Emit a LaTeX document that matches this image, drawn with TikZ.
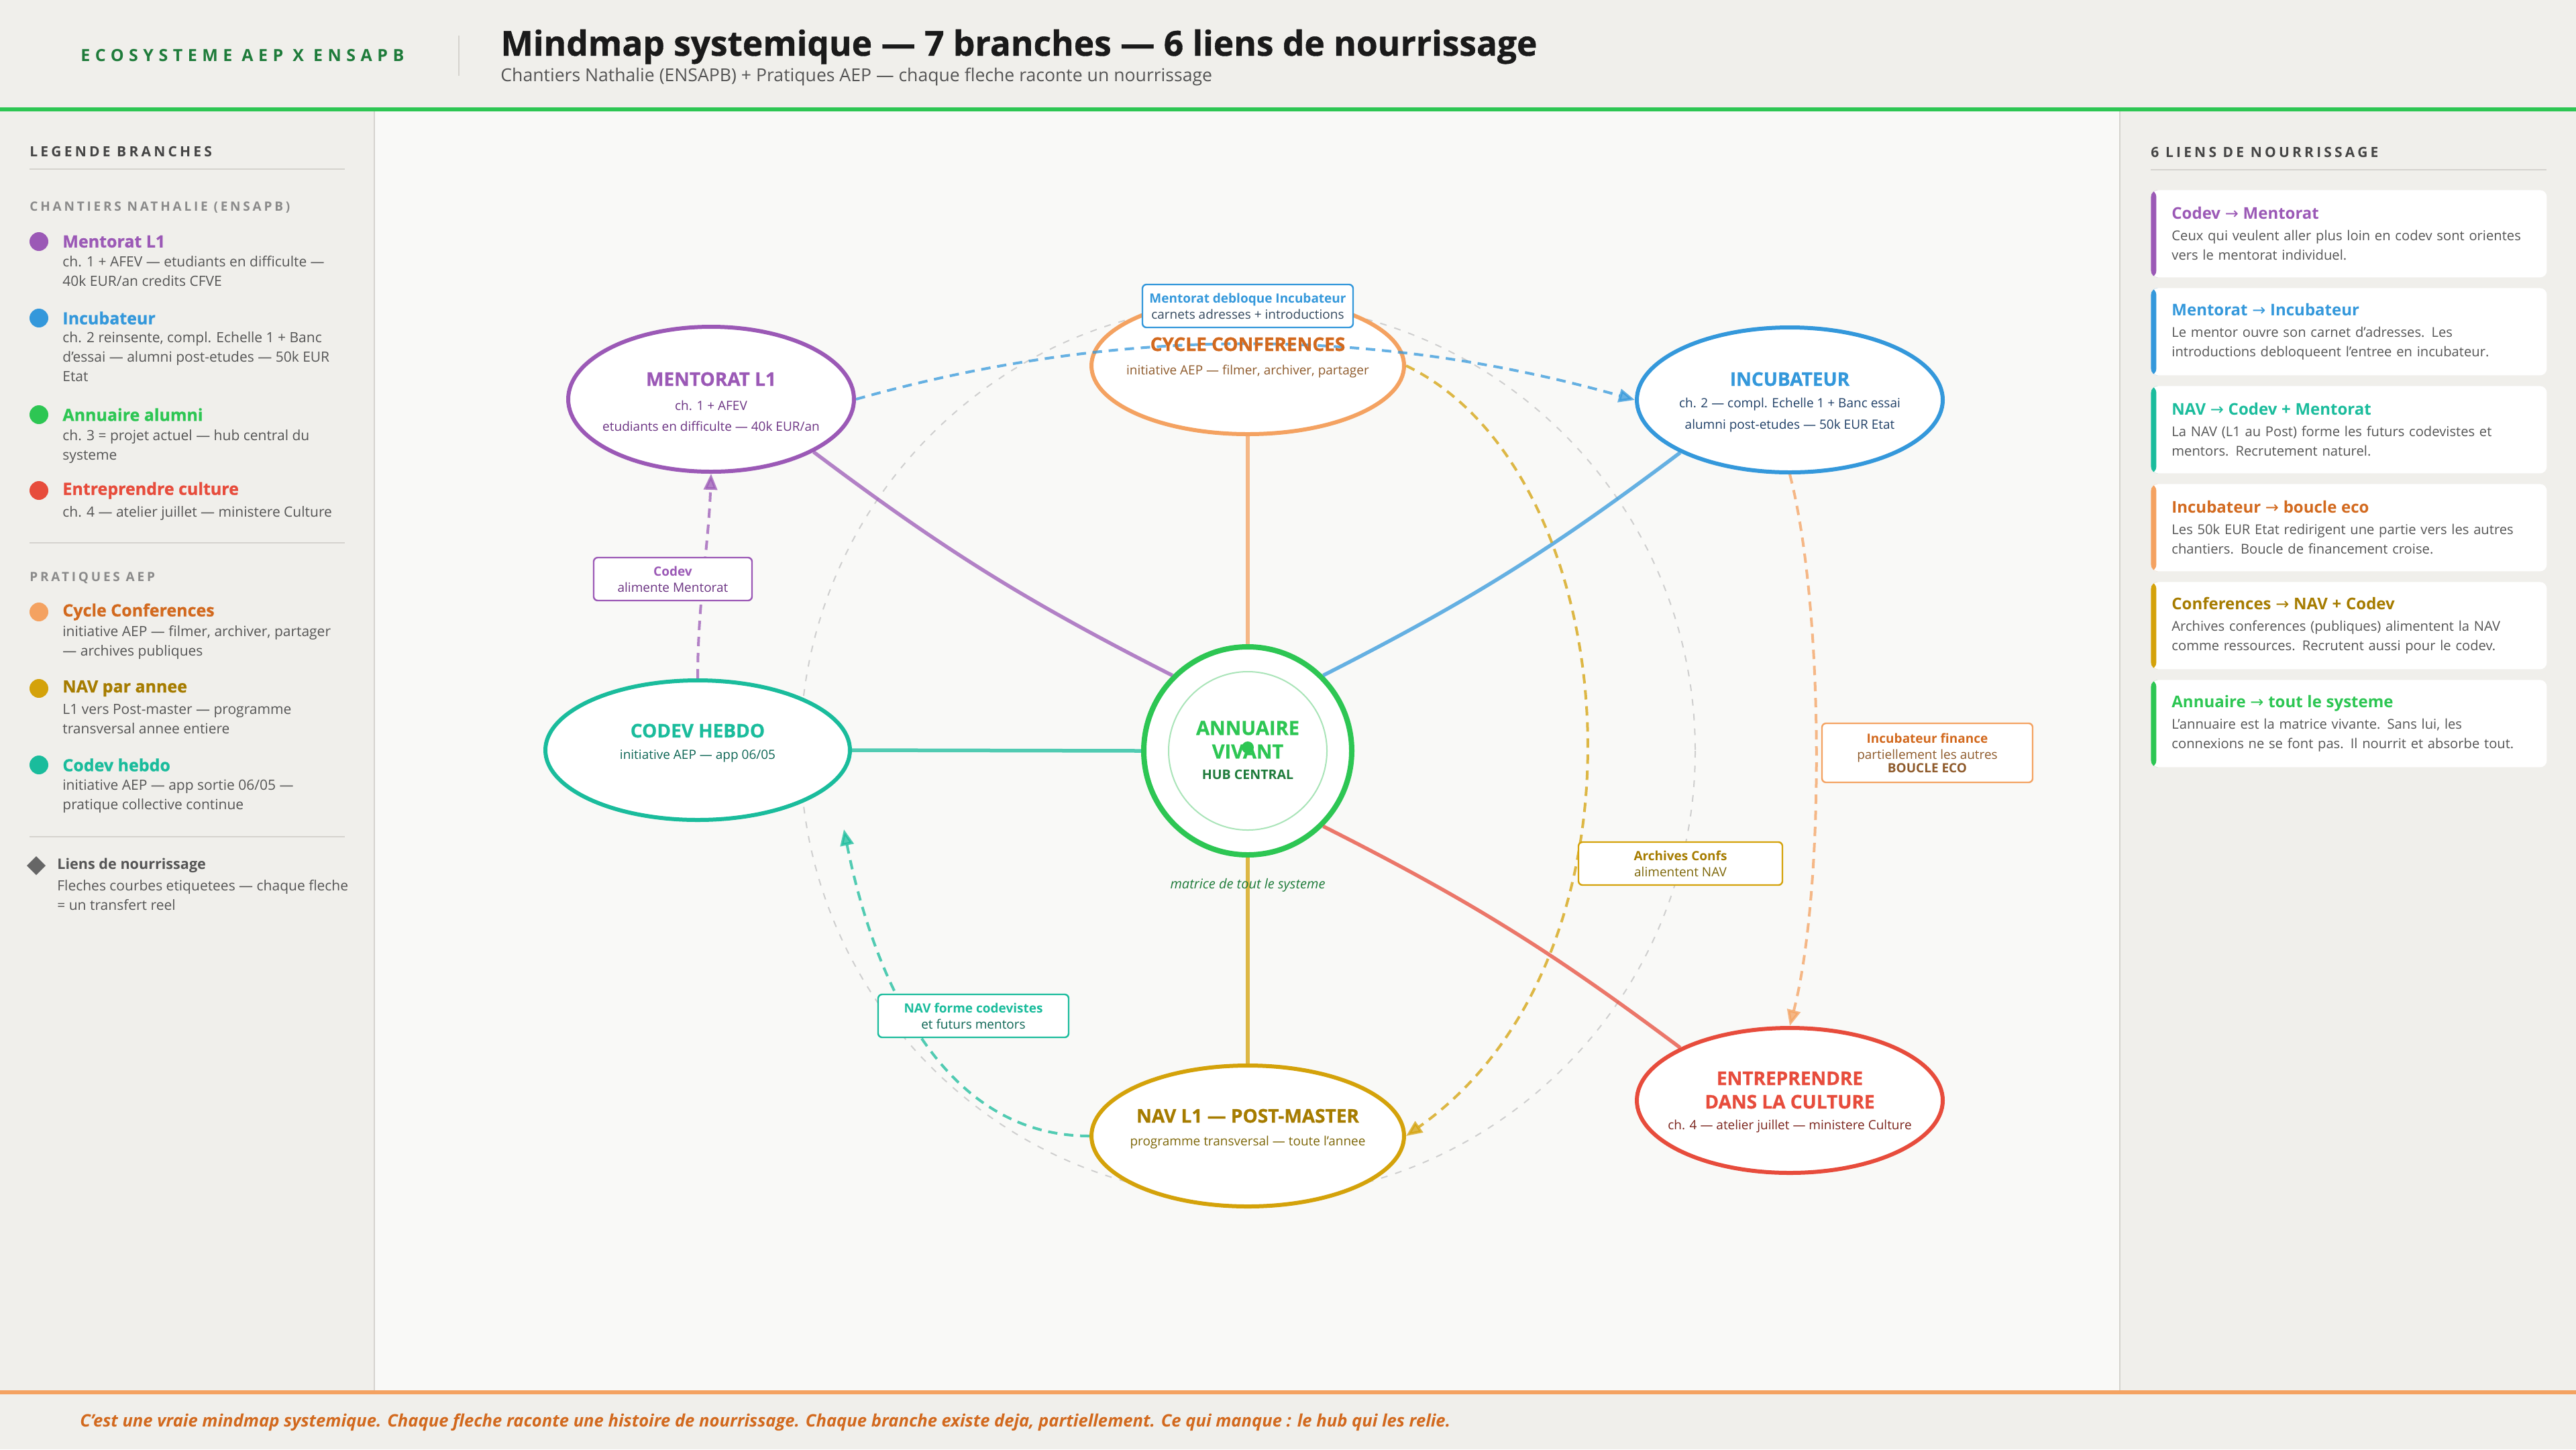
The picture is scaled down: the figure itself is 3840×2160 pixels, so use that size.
\documentclass[tikz,border=0pt]{standalone}
\usepackage{fontspec}
\setmainfont{Open Sans}
\newfontfamily\spacedfont[LetterSpace=20]{Open Sans}
\newfontfamily\tagfont[LetterSpace=30]{Open Sans}
\newfontfamily\heavyfont[BoldFeatures={FakeBold=0.8}]{Open Sans}
\newfontfamily\arrowfont{DejaVu Sans}
\usetikzlibrary{shapes.geometric,arrows.meta,positioning}

\definecolor{paper}{HTML}{F0EFEB}
\definecolor{canvas}{HTML}{F9F9F7}
\definecolor{rulec}{HTML}{D5D3CE}
\definecolor{ink}{HTML}{1A1A1A}
\definecolor{muted}{HTML}{555555}
\definecolor{soft}{HTML}{8A8A8A}
\definecolor{headc}{HTML}{444444}
\definecolor{mentor}{HTML}{9B59B6}
\definecolor{mentordk}{HTML}{6C3483}
\definecolor{incub}{HTML}{3498DB}
\definecolor{incubdk}{HTML}{1F3F66}
\definecolor{annu}{HTML}{2DC653}
\definecolor{annudk}{HTML}{1E7B3A}
\definecolor{entre}{HTML}{E74C3C}
\definecolor{entredk}{HTML}{7B241C}
\definecolor{conf}{HTML}{F4A261}
\definecolor{confdk}{HTML}{D2691E}
\definecolor{confsub}{HTML}{8E5A2B}
\definecolor{nav}{HTML}{D4A20A}
\definecolor{navdk}{HTML}{A67C00}
\definecolor{navsub}{HTML}{7D6608}
\definecolor{codev}{HTML}{1ABC9C}
\definecolor{codevdk}{HTML}{0E6655}
\definecolor{slate}{HTML}{34495E}
\definecolor{ringc}{HTML}{CFCFCF}
\definecolor{hubring}{HTML}{A9E4B8}

\tikzset{
  branch/.style={ellipse, draw=#1, line width=3pt, fill=white},
  btitle/.style={font=\heavyfont\bfseries\fontsize{14}{16}\selectfont, text=#1},
  bsub/.style={font=\fontsize{9.5}{11}\selectfont, text=#1},
  spoke/.style={draw=#1, draw opacity=0.75, line width=2.75pt},
  feed/.style={draw=#1, opacity=0.75, line width=2pt, dash pattern=on 7pt off 5pt,
    -{Triangle[length=12pt,width=10pt]}},
  linkbox/.style={draw=#1, line width=1.2pt, fill=white, rounded corners=3pt,
    minimum height=32pt, align=center, font=\fontsize{9.5}{12}\selectfont},
  heading/.style={font=\spacedfont\bfseries\fontsize{10.5}{12}\selectfont, text=headc, anchor=west},
  subhead/.style={font=\spacedfont\bfseries\fontsize{9.5}{11}\selectfont, text=soft, anchor=west},
  legname/.style={font=\heavyfont\bfseries\fontsize{12.5}{14}\selectfont, text=#1, anchor=west},
  legdesc/.style={font=\fontsize{10.5}{14.5}\selectfont, text=muted, align=left, anchor=north west},
  card/.style={rounded corners=5pt, fill=white, anchor=north west, text width=264pt,
    minimum height=65pt, inner xsep=15.5pt, align=left, text=muted,
    font=\fontsize{10.1}{14.5}\selectfont,
    path picture={\fill[#1] (path picture bounding box.north west) rectangle
      ([xshift=4pt]path picture bounding box.south west);}},
  rule/.style={draw=rulec, line width=1pt}
}

\begin{document}
\begin{tikzpicture}[x=0.5pt, y=-0.5pt, every node/.style={inner sep=0pt}]
\useasboundingbox (0,0) rectangle (3840,2160);

% fonds
\fill[paper] (0,0) rectangle (3840,160);
\fill[annu] (0,160) rectangle (3840,166);
\fill[paper] (0,166) rectangle (558,2072);
\fill[canvas] (558,166) rectangle (3160,2072);
\fill[paper] (3160,166) rectangle (3840,2072);
\draw[rule] (558,166) -- (558,2072);
\draw[rule] (3160,166) -- (3160,2072);
\fill[conf] (0,2072) rectangle (3840,2078);
\fill[paper] (0,2078) rectangle (3840,2160);

% en-tete
\node[font=\tagfont\bfseries\fontsize{12.5}{14}\selectfont, text=annudk, anchor=west] (tag) at (120,83) {ECOSYSTEME AEP X ENSAPB};
\draw[rule] (684,53) -- (684,113);
\node[anchor=base west, font=\heavyfont\bfseries\fontsize{25.7}{30}\selectfont, text=ink] (title) at (746,83) {Mindmap systemique — 7 branches — 6 liens de nourrissage};
\node[anchor=base west, font=\fontsize{13.3}{15}\selectfont, text=muted] (subtitle) at (746,121) {Chantiers Nathalie (ENSAPB) + Pratiques AEP — chaque fleche raconte un nourrissage};

% anneau
\coordinate (c) at (1860,1119);
\draw[ringc, line width=1pt, dash pattern=on 5pt off 6pt] (c) circle[radius=667];

% branches
\node[branch=mentor, minimum width=213pt, minimum height=108pt] (ment) at (1060,595) {};
\node[branch=conf, minimum width=233pt, minimum height=102pt] (conf) at (1860,545) {};
\node[branch=incub, minimum width=228pt, minimum height=108pt] (incu) at (2668,596) {};
\node[branch=codev, minimum width=227pt, minimum height=104pt] (codev) at (1040,1118) {};
\node[branch=nav, minimum width=233pt, minimum height=105pt] (nav) at (1860,1693) {};
\node[branch=entre, minimum width=228pt, minimum height=108pt] (entre) at (2668,1640) {};
\node[circle, draw=annu, line width=4pt, fill=white, minimum size=155pt] (hub) at (c) {};
\draw[hubring, line width=1pt] (c) circle[radius=118];

\draw[spoke=mentor] (hub.north west) to[bend left=5] (ment.south east);
\draw[spoke=conf] (hub.north) -- (conf.south);
\draw[spoke=incub] (hub.north east) to[bend right=5] (incu.south west);
\draw[spoke=codev] (hub.west) -- (codev.east);
\draw[spoke=nav] (hub.south) -- (nav.north);
\draw[spoke=entre] (hub.south east) to[bend left=5] (entre.north west);

% liens de nourrissage
\coordinate (navtip) at (1258,1236);
\draw[feed=incub] (ment.east) .. controls +(390,-110) and +(-390,-110) .. (incu.west);
\draw[feed=mentor] (codev.north) .. controls +(0,-110) and +(-4,110) .. (ment.south);
\draw[feed=codev] (nav.west) .. controls +(-230,0) and +(40,200) .. (navtip);
\draw[feed=nav] (conf.east) .. controls +(327,157) and +(387,-273) .. (nav.east);
\draw[feed=conf] (incu.south) .. controls +(52,200) and +(52,-200) .. (entre.north);

% textes des branches
\node[btitle=mentor] (mentname) at (1060,565) {MENTORAT L1};
\node[bsub=mentordk] (mentinfo) at (1060,604) {ch. 1 + AFEV};
\node[bsub=mentordk] (mentnote) at (1060,635) {etudiants en difficulte — 40k EUR/an};
\node[btitle=confdk] (confname) at (1860,513) {CYCLE CONFERENCES};
\node[bsub=confsub] (confinfo) at (1860,553) {initiative AEP — filmer, archiver, partager};
\node[btitle=incub] (incuname) at (2668,565) {INCUBATEUR};
\node[bsub=incubdk] (incuinfo) at (2668,603) {ch. 2 — compl. Echelle 1 + Banc essai};
\node[bsub=incubdk] (incunote) at (2668,635) {alumni post-etudes — 50k EUR Etat};
\node[btitle=codev] (codevname) at (1040,1089) {CODEV HEBDO};
\node[bsub=codevdk] (codevinfo) at (1040,1127) {initiative AEP — app 06/05};
\node[btitle=navdk] (navname) at (1860,1663) {NAV L1 — POST-MASTER};
\node[bsub=navsub] (navinfo) at (1860,1703) {programme transversal — toute l'annee};
\node[btitle=entre] (entrename) at (2668,1607) {ENTREPRENDRE};
\node[btitle=entre] (entrename2) at (2668,1642) {DANS LA CULTURE};
\node[bsub=entredk] (entreinfo) at (2668,1679) {ch. 4 — atelier juillet — ministere Culture};
\node[font=\heavyfont\bfseries\fontsize{14.5}{16}\selectfont, text=annu] (hubname) at (1860,1085) {ANNUAIRE};
\node[font=\heavyfont\bfseries\fontsize{14.5}{16}\selectfont, text=annu] (hubname2) at (1860,1120) {VIVANT};
\fill[annu] (1860,1114) circle[radius=9];
\node[font=\fontsize{9.8}{11}\selectfont\bfseries, text=annudk] (hubtag) at (1860,1154) {HUB CENTRAL};
\node[font=\fontsize{10}{12}\selectfont\itshape, text=annudk] (hubnote) at (1860,1319) {matrice de tout le systeme};

% etiquettes des liens
\node[linkbox=incub, minimum width=157pt] (lkincu) at (1860,456) {{\bfseries\color{incub}Mentorat debloque Incubateur}\\{\color{slate}carnets adresses + introductions}};
\node[linkbox=mentor, minimum width=118pt] (lkment) at (1003,863) {{\bfseries\color{mentor}Codev}\\{\color{mentordk}alimente Mentorat}};
\node[linkbox=codev, minimum width=142pt] (lknav) at (1451,1514) {{\bfseries\color{codev}NAV forme codevistes}\\{\color{codevdk}et futurs mentors}};
\node[linkbox=nav, minimum width=152pt] (lkconf) at (2505,1287) {{\bfseries\color{navdk}Archives Confs}\\{\color{navsub}alimentent NAV}};
\node[linkbox=conf, minimum width=157pt, minimum height=44pt] (lkeco) at (2873,1122) {{\bfseries\color{confdk}Incubateur finance}\\{\color{confsub}partiellement les autres}\\[-2pt]{\bfseries\color{confsub}BOUCLE ECO}};

% legende gauche
\node[heading] (legtitle) at (44,226) {LEGENDE BRANCHES};
\draw[rule] (44,252) -- (514,252);
\node[subhead] (chantiers) at (44,309) {CHANTIERS NATHALIE (ENSAPB)};
\fill[mentor] (58,360) circle[radius=14];
\node[legname=mentor] (lgment) at (93,360) {Mentorat L1};
\node[legdesc] (lgmentd) at (93,381) {ch. 1 + AFEV — etudiants en difficulte —\\40k EUR/an credits CFVE};
\fill[incub] (58,474) circle[radius=14];
\node[legname=incub] (lgincu) at (93,474) {Incubateur};
\node[legdesc] (lgincud) at (93,494) {ch. 2 reinsente, compl. Echelle 1 + Banc\\d'essai — alumni post-etudes — 50k EUR\\Etat};
\fill[annu] (58,618) circle[radius=14];
\node[legname=annu] (lgannu) at (93,618) {Annuaire alumni};
\node[legdesc] (lgannud) at (93,640) {ch. 3 = projet actuel — hub central du\\systeme};
\fill[entre] (58,731) circle[radius=14];
\node[legname=entre] (lgentre) at (93,731) {Entreprendre culture};
\node[legdesc] (lgentred) at (93,754) {ch. 4 — atelier juillet — ministere Culture};
\draw[rule] (44,809) -- (514,809);
\node[subhead] (pratiques) at (44,861) {PRATIQUES AEP};
\fill[conf] (58,912) circle[radius=14];
\node[legname=confdk] (lgconf) at (93,912) {Cycle Conferences};
\node[legdesc] (lgconfd) at (93,932) {initiative AEP — filmer, archiver, partager\\— archives publiques};
\fill[nav] (58,1026) circle[radius=14];
\node[legname=navdk] (lgnav) at (93,1026) {NAV par annee};
\node[legdesc] (lgnavd) at (93,1049) {L1 vers Post-master — programme\\transversal annee entiere};
\fill[codev] (58,1140) circle[radius=14];
\node[legname=codev] (lgcodev) at (93,1140) {Codev hebdo};
\node[legdesc] (lgcodevd) at (93,1162) {initiative AEP — app sortie 06/05 —\\pratique collective continue};
\draw[rule] (44,1247) -- (514,1247);
\fill[muted!90] (54,1276) -- (68,1290) -- (54,1304) -- (40,1290) -- cycle;
\node[font=\fontsize{10.8}{12}\selectfont\bfseries, text=muted, anchor=west] (lgfeed) at (85,1290) {Liens de nourrissage};
\node[legdesc] (lgfeedd) at (85,1311) {Fleches courbes etiquetees — chaque fleche\\= un transfert reel};

% liens a droite
\node[heading] (feedtitle) at (3206,227) {6 LIENS DE NOURRISSAGE};
\draw[rule] (3206,253) -- (3796,253);
\node[card=mentor] (card1) at (3206,283) {{\fontsize{12}{14}\selectfont\bfseries\color{mentor}Codev {\arrowfont\mdseries →} Mentorat}\\[1.5pt]Ceux qui veulent aller plus loin en codev sont orientes\\vers le mentorat individuel.};
\node[card=incub] (card2) at (3206,429) {{\fontsize{12}{14}\selectfont\bfseries\color{incub}Mentorat {\arrowfont\mdseries →} Incubateur}\\[1.5pt]Le mentor ouvre son carnet d'adresses. Les\\introductions debloqueent l'entree en incubateur.};
\node[card=codev] (card3) at (3206,575) {{\fontsize{12}{14}\selectfont\bfseries\color{codev}NAV {\arrowfont\mdseries →} Codev + Mentorat}\\[1.5pt]La NAV (L1 au Post) forme les futurs codevistes et\\mentors. Recrutement naturel.};
\node[card=conf] (card4) at (3206,721) {{\fontsize{12}{14}\selectfont\bfseries\color{confdk}Incubateur {\arrowfont\mdseries →} boucle eco}\\[1.5pt]Les 50k EUR Etat redirigent une partie vers les autres\\chantiers. Boucle de financement croise.};
\node[card=nav] (card5) at (3206,867) {{\fontsize{12}{14}\selectfont\bfseries\color{navdk}Conferences {\arrowfont\mdseries →} NAV + Codev}\\[1.5pt]Archives conferences (publiques) alimentent la NAV\\comme ressources. Recrutent aussi pour le codev.};
\node[card=annu] (card6) at (3206,1013) {{\fontsize{12}{14}\selectfont\bfseries\color{annu}Annuaire {\arrowfont\mdseries →} tout le systeme}\\[1.5pt]L'annuaire est la matrice vivante. Sans lui, les\\connexions ne se font pas. Il nourrit et absorbe tout.};

% pied
\node[anchor=west, font=\fontsize{12.8}{15}\selectfont\bfseries\itshape, text=confdk] (footer) at (119,2120) {C'est une vraie mindmap systemique. Chaque fleche raconte une histoire de nourrissage. Chaque branche existe deja, partiellement. Ce qui manque : le hub qui les relie.};
\end{tikzpicture}
\end{document}
